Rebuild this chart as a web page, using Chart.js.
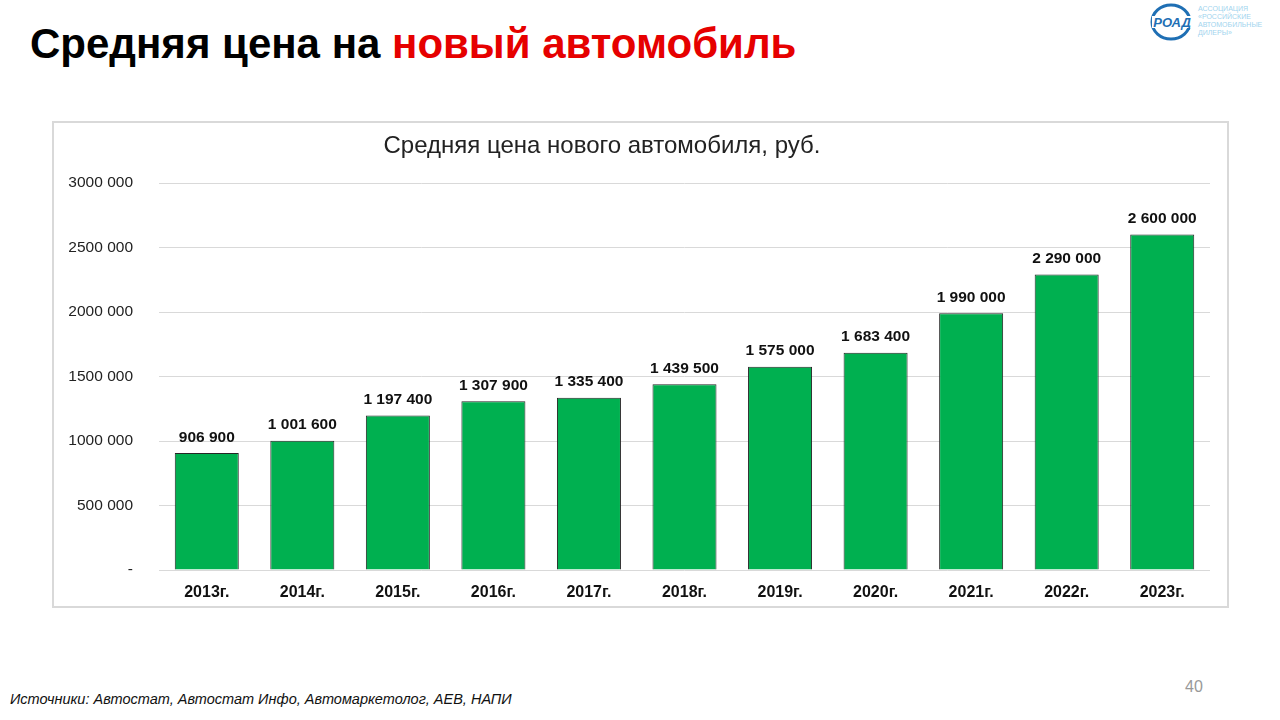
<!DOCTYPE html>
<html>
<head>
<meta charset="utf-8">
<script src="https://cdn.jsdelivr.net/npm/chart.js@4"></script>
<style>
  body { margin: 0; width: 1280px; height: 720px; background: #fff; font-family: "Liberation Sans", Arial, sans-serif; position: relative; overflow: hidden; }
  #title { position: absolute; left: 30px; top: 20px; font-size: 42px; font-weight: bold; color: #000; white-space: nowrap; }
  #title span { color: #e60000; }
  #box { position: absolute; left: 52px; top: 121px; width: 1173px; height: 483px; border: 2px solid #d9d9d9; }
  #chartTitle { position: absolute; left: 0; width: 1096px; top: 8px; text-align: center; font-size: 24px; color: #222; }
  #footer { position: absolute; left: 10px; top: 691px; font-size: 14.5px; font-style: italic; color: #111; }
  #page { position: absolute; left: 1185px; top: 678px; font-size: 16px; color: #999; }
  #logo { position: absolute; left: 1148px; top: 2px; }
</style>
</head>
<body>
<div id="title">Средняя цена на <span>новый автомобиль</span></div>
<svg id="logo" width="130" height="42">
  <ellipse cx="23" cy="20" rx="19" ry="17" fill="none" stroke="#1f6fb4" stroke-width="3"/>
  <rect x="4" y="14" width="40" height="12" fill="#fff"/>
  <text x="24" y="25" text-anchor="middle" font-size="13" font-weight="bold" font-style="italic" fill="#1f6fb4" font-family="Liberation Sans">РОАД</text>
  <text x="50" y="9" font-size="7" fill="#9fd4ee" font-family="Liberation Sans">АССОЦИАЦИЯ</text>
  <text x="50" y="17" font-size="7" fill="#9fd4ee" font-family="Liberation Sans">«РОССИЙСКИЕ</text>
  <text x="50" y="25" font-size="7" fill="#9fd4ee" font-family="Liberation Sans">АВТОМОБИЛЬНЫЕ</text>
  <text x="50" y="33" font-size="7" fill="#9fd4ee" font-family="Liberation Sans">ДИЛЕРЫ»</text>
</svg>
<div id="box">
  <div id="chartTitle">Средняя цена нового автомобиля, руб.</div>
  <canvas id="priceChart" width="1173" height="483"></canvas>
</div>
<div id="footer">Источники: Автостат, Автостат Инфо, Автомаркетолог, АЕВ, НАПИ</div>
<div id="page">40</div>

<script>
const years = ['2013г.', '2014г.', '2015г.', '2016г.', '2017г.', '2018г.', '2019г.', '2020г.', '2021г.', '2022г.', '2023г.'];
const prices = [906900, 1001600, 1197400, 1307900, 1335400, 1439500, 1575000, 1683400, 1990000, 2290000, 2600000];
const tickValues = [0, 500000, 1000000, 1500000, 2000000, 2500000, 3000000];
const tickLabels = ['-', '500 000', '1000 000', '1500 000', '2000 000', '2500 000', '3000 000'];

function fmt(v) {
  return String(v).replace(/\B(?=(\d{3})+(?!\d))/g, ' ');
}

// value labels above each bar
const barLabels = {
  id: 'barLabels',
  afterDatasetsDraw(chart) {
    const ctx = chart.ctx;
    const meta = chart.getDatasetMeta(0);
    ctx.save();
    ctx.font = 'bold 15.5px "Liberation Sans", Arial, sans-serif';
    ctx.fillStyle = '#111';
    ctx.textAlign = 'center';
    ctx.textBaseline = 'bottom';
    meta.data.forEach((bar, i) => {
      ctx.fillText(fmt(prices[i]), bar.x, bar.y - 8);
    });
    ctx.restore();
  }
};

const ctx = document.getElementById('priceChart').getContext('2d');
new Chart(ctx, {
  type: 'bar',
  data: {
    labels: years,
    datasets: [{
      data: prices,
      backgroundColor: '#00b050',
      borderColor: '#262626',
      borderWidth: 1,
      barPercentage: 0.67,
      categoryPercentage: 1
    }]
  },
  options: {
    responsive: false,
    animation: false,
    layout: { padding: { top: 60, right: 17, bottom: 0, left: 0 } },
    plugins: {
      legend: { display: false },
      tooltip: { enabled: false }
    },
    scales: {
      x: {
        grid: { display: false },
        border: { display: false },
        afterFit(scale) { scale.height = 36; },
        ticks: {
          color: '#111',
          padding: 5,
          font: { family: '"Liberation Sans", Arial, sans-serif', size: 16, weight: 'bold' }
        }
      },
      y: {
        min: 0,
        max: 3000000,
        afterFit(scale) { scale.width = 105; },
        afterBuildTicks(scale) { scale.ticks = tickValues.map(v => ({ value: v })); },
        grid: { color: '#d9d9d9', drawTicks: false },
        border: { display: false },
        ticks: {
          color: '#222',
          padding: 26,
          font: { family: '"Liberation Sans", Arial, sans-serif', size: 15.5 },
          callback: (v) => tickLabels[tickValues.indexOf(v)]
        }
      }
    }
  },
  plugins: [barLabels]
});
</script>
</body>
</html>
